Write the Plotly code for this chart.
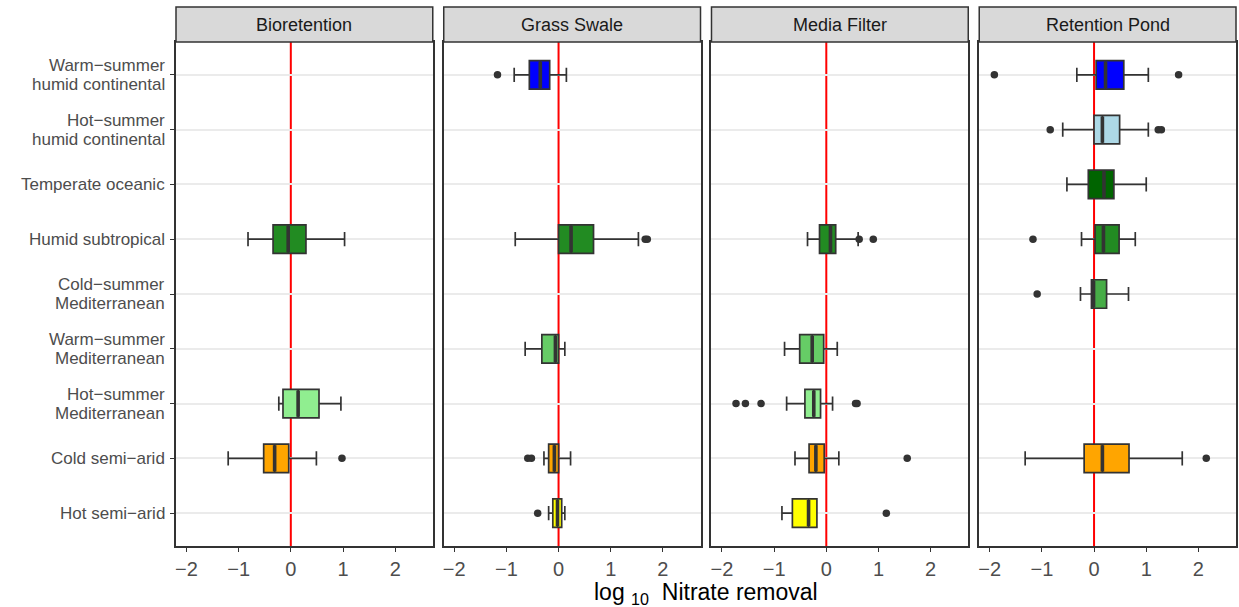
import plotly.graph_objects as go

# Climate categories, top to bottom, and their fill colours
climates = [
    "Warm-summer humid continental",
    "Hot-summer humid continental",
    "Temperate oceanic",
    "Humid subtropical",
    "Cold-summer Mediterranean",
    "Warm-summer Mediterranean",
    "Hot-summer Mediterranean",
    "Cold semi-arid",
    "Hot semi-arid",
]
climate_label_lines = [
    ["Warm\u2212summer", "humid continental"],
    ["Hot\u2212summer", "humid continental"],
    ["Temperate oceanic"],
    ["Humid subtropical"],
    ["Cold\u2212summer", "Mediterranean"],
    ["Warm\u2212summer", "Mediterranean"],
    ["Hot\u2212summer", "Mediterranean"],
    ["Cold semi\u2212arid"],
    ["Hot semi\u2212arid"],
]
climate_colors = ["#0000FF", "#ADD8E6", "#006400", "#228B22", "#47AD47",
                  "#66CC66", "#90EE90", "#FFA500", "#FFFF00"]

panels = ["Bioretention", "Grass Swale", "Media Filter", "Retention Pond"]

# Box statistics (log10 nitrate removal)
box_panel = ["Bioretention", "Bioretention", "Bioretention",
             "Grass Swale", "Grass Swale", "Grass Swale", "Grass Swale", "Grass Swale",
             "Media Filter", "Media Filter", "Media Filter", "Media Filter", "Media Filter",
             "Retention Pond", "Retention Pond", "Retention Pond", "Retention Pond",
             "Retention Pond", "Retention Pond"]
box_climate = ["Humid subtropical", "Hot-summer Mediterranean", "Cold semi-arid",
               "Warm-summer humid continental", "Humid subtropical",
               "Warm-summer Mediterranean", "Cold semi-arid", "Hot semi-arid",
               "Humid subtropical", "Warm-summer Mediterranean",
               "Hot-summer Mediterranean", "Cold semi-arid", "Hot semi-arid",
               "Warm-summer humid continental", "Hot-summer humid continental",
               "Temperate oceanic", "Humid subtropical",
               "Cold-summer Mediterranean", "Cold semi-arid"]
box_low = [-0.82, -0.23, -1.20,
           -0.85, -0.83, -0.64, -0.28, -0.19,
           -0.36, -0.80, -0.76, -0.60, -0.85,
           -0.33, -0.60, -0.52, -0.24, -0.26, -1.32]
box_q1 = [-0.34, -0.15, -0.52,
          -0.56, 0.00, -0.32, -0.19, -0.11,
          -0.13, -0.51, -0.41, -0.33, -0.65,
          0.04, 0.00, -0.11, 0.02, -0.05, -0.19]
box_med = [-0.05, 0.14, -0.31,
           -0.35, 0.24, -0.06, -0.08, -0.02,
           0.08, -0.27, -0.24, -0.20, -0.34,
           0.22, 0.16, 0.19, 0.18, -0.01, 0.16]
box_q3 = [0.29, 0.54, -0.04,
          -0.17, 0.67, 0.00, 0.00, 0.06,
          0.18, -0.05, -0.11, -0.04, -0.18,
          0.57, 0.49, 0.38, 0.48, 0.24, 0.67]
box_high = [1.03, 0.96, 0.49,
            0.15, 1.53, 0.12, 0.23, 0.12,
            0.61, 0.21, 0.12, 0.24, -0.18,
            1.04, 1.04, 1.00, 0.79, 0.66, 1.69]

# Outlying observations
out_panel = ["Bioretention",
             "Grass Swale", "Grass Swale", "Grass Swale", "Grass Swale", "Grass Swale",
             "Grass Swale",
             "Media Filter", "Media Filter", "Media Filter", "Media Filter",
             "Media Filter", "Media Filter", "Media Filter", "Media Filter", "Media Filter",
             "Retention Pond", "Retention Pond", "Retention Pond", "Retention Pond",
             "Retention Pond", "Retention Pond", "Retention Pond", "Retention Pond"]
out_climate = ["Cold semi-arid",
               "Warm-summer humid continental", "Humid subtropical", "Humid subtropical",
               "Cold semi-arid", "Cold semi-arid", "Hot semi-arid",
               "Humid subtropical", "Humid subtropical",
               "Hot-summer Mediterranean", "Hot-summer Mediterranean",
               "Hot-summer Mediterranean", "Hot-summer Mediterranean",
               "Hot-summer Mediterranean", "Cold semi-arid", "Hot semi-arid",
               "Warm-summer humid continental", "Warm-summer humid continental",
               "Hot-summer humid continental", "Hot-summer humid continental",
               "Hot-summer humid continental", "Humid subtropical",
               "Cold-summer Mediterranean", "Cold semi-arid"]
out_value = [0.98,
             -1.17, 1.66, 1.70, -0.59, -0.52, -0.40,
             0.63, 0.90, -1.73, -1.55, -1.25, 0.56, 0.59, 1.55, 1.15,
             -1.91, 1.62, -0.84, 1.23, 1.29, -1.17, -1.09, 2.15]

x_ticks = [-2, -1, 0, 1, 2]
x_tick_text = ["\u22122", "\u22121", "0", "1", "2"]
x_range = [-2.2, 2.72]

# ---- layout geometry ----
W, H = 1239, 607
ml, mr, mt, mb = 176, 1, 7, 61
gap = 11
plot_w = W - ml - mr
panel_w = (plot_w - 3 * gap) / 4
plot_h = H - mt - mb
strip_h = 35
y_top = 1 - strip_h / plot_h

BOX_W = 0.52
DARK = "#333333"
FONT = "Liberation Sans, Arial, sans-serif"

fig = go.Figure()
pos = {c: i for i, c in enumerate(climates)}

for p_i, panel in enumerate(panels):
    xa = "x" if p_i == 0 else f"x{p_i + 1}"
    ya = "y" if p_i == 0 else f"y{p_i + 1}"
    for k in range(len(box_panel)):
        if box_panel[k] != panel:
            continue
        yi = pos[box_climate[k]]
        fig.add_trace(go.Box(
            y=[yi], q1=[box_q1[k]], median=[box_med[k]], q3=[box_q3[k]],
            lowerfence=[box_low[k]], upperfence=[box_high[k]],
            orientation="h", width=BOX_W, whiskerwidth=0.5,
            fillcolor=climate_colors[yi], line=dict(color=DARK, width=1.7),
            boxpoints=False, xaxis=xa, yaxis=ya, showlegend=False,
            hoverinfo="skip",
        ))
        # thicker median bar
        fig.add_trace(go.Scatter(
            x=[box_med[k], box_med[k]],
            y=[yi - BOX_W / 2 + 0.02, yi + BOX_W / 2 - 0.02],
            mode="lines", line=dict(color=DARK, width=3.6),
            xaxis=xa, yaxis=ya, showlegend=False, hoverinfo="skip",
        ))
    ox = [v for pp, v in zip(out_panel, out_value) if pp == panel]
    oy = [pos[c] for pp, c in zip(out_panel, out_climate) if pp == panel]
    if ox:
        fig.add_trace(go.Scatter(
            x=ox, y=oy, mode="markers",
            marker=dict(color=DARK, size=7.5, line=dict(width=0)),
            xaxis=xa, yaxis=ya, showlegend=False, hoverinfo="skip",
        ))

shapes = []
annotations = []
axes = {}

for p_i, panel in enumerate(panels):
    x0 = p_i * (panel_w + gap) / plot_w
    x1 = x0 + panel_w / plot_w
    suffix = "" if p_i == 0 else str(p_i + 1)
    axes["xaxis" + suffix] = dict(
        domain=[x0, x1], range=x_range, tickvals=x_ticks, ticktext=x_tick_text,
        showgrid=False, zeroline=False,
        showline=True, mirror=True, linecolor=DARK, linewidth=1.5,
        ticks="outside", ticklen=4, tickcolor=DARK, tickwidth=1.2,
        tickfont=dict(size=20, color="#4D4D4D", family=FONT),
        anchor="y" + suffix,
    )
    axes["yaxis" + suffix] = dict(
        domain=[0, y_top], range=[len(climates) - 0.4, -0.6],
        tickvals=list(range(len(climates))),
        showticklabels=False,
        showgrid=True, gridcolor="#EBEBEB", gridwidth=1.6,
        zeroline=False,
        showline=True, mirror=True, linecolor=DARK, linewidth=1.5,
        ticks="outside" if p_i == 0 else "", ticklen=4, tickcolor=DARK,
        tickwidth=1.2,
        anchor="x" + suffix,
    )
    # zero reference line
    shapes.append(dict(
        type="line", xref="x" + suffix, yref="paper",
        x0=0, x1=0, y0=0, y1=y_top, line=dict(color="#FF0000", width=2),
        layer="below",
    ))
    # facet strip
    shapes.append(dict(
        type="rect", xref="paper", yref="paper",
        x0=x0, x1=x1, y0=y_top, y1=1,
        fillcolor="#D9D9D9", line=dict(color=DARK, width=1.5),
    ))
    annotations.append(dict(
        text=panel, xref="paper", yref="paper",
        x=(x0 + x1) / 2, y=(y_top + 1) / 2, showarrow=False,
        xanchor="center", yanchor="middle",
        font=dict(size=18, color="#1A1A1A", family=FONT),
    ))

# climate labels on the left axis, one text per line
LINE_GAP = 19
for i, lines in enumerate(climate_label_lines):
    n = len(lines)
    for j, line in enumerate(lines):
        annotations.append(dict(
            text=line, xref="paper", yref="y", x=0, y=i,
            xanchor="right", yanchor="middle", xshift=-9,
            yshift=((n - 1) / 2 - j) * LINE_GAP,
            showarrow=False,
            font=dict(size=17, color="#4D4D4D", family=FONT),
        ))

annotations.append(dict(
    text="log <sub>10</sub>  Nitrate removal", xref="paper", yref="paper",
    x=0.5, y=-47 / plot_h, showarrow=False, xanchor="center", yanchor="middle",
    font=dict(size=23, color="black", family=FONT),
))

fig.update_layout(
    width=W, height=H,
    margin=dict(l=ml, r=mr, t=mt, b=mb),
    paper_bgcolor="white", plot_bgcolor="white",
    font=dict(family=FONT, color="#4D4D4D"),
    shapes=shapes, annotations=annotations, **axes,
)
fig.write_html("out.html")
